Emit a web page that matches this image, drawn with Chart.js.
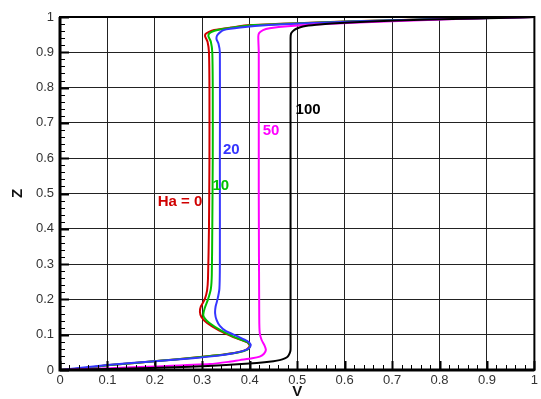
<!DOCTYPE html>
<html>
<head>
<meta charset="utf-8">
<script src="https://cdn.jsdelivr.net/npm/chart.js@4/dist/chart.umd.min.js"></script>
<style>
  html, body { margin: 0; padding: 0; background: #fff; }
  #wrap { width: 541px; height: 399px; position: relative; }
</style>
</head>
<body>
<div id="wrap"><canvas id="velocityChart"></canvas></div>
<script>
// profiles V(Z) for each Hartmann number
const ha0Z = [0, 0.005, 0.014, 0.026, 0.034, 0.040, 0.044, 0.050, 0.058, 0.068, 0.078, 0.094, 0.112, 0.133, 0.150, 0.165, 0.180, 0.200, 0.225, 0.260, 0.400, 0.600, 0.800, 0.900, 0.930, 0.945, 0.952, 0.958, 0.963, 0.970, 0.977, 0.984, 0.991, 0.996, 1];
const ha0V = [0, 0.050, 0.105, 0.210, 0.274, 0.316, 0.345, 0.375, 0.393, 0.400, 0.395, 0.364, 0.335, 0.310, 0.298, 0.295, 0.297, 0.305, 0.310, 0.312, 0.314, 0.315, 0.315, 0.314, 0.311, 0.306, 0.307, 0.314, 0.325, 0.360, 0.400, 0.526, 0.700, 0.850, 1];

const ha10Z = [0, 0.005, 0.014, 0.026, 0.034, 0.040, 0.044, 0.050, 0.058, 0.068, 0.078, 0.094, 0.112, 0.133, 0.145, 0.156, 0.175, 0.200, 0.230, 0.270, 0.400, 0.600, 0.800, 0.900, 0.930, 0.945, 0.952, 0.958, 0.963, 0.970, 0.977, 0.984, 0.991, 0.996, 1];
const ha10V = [0, 0.050, 0.105, 0.210, 0.276, 0.318, 0.347, 0.377, 0.395, 0.401, 0.396, 0.367, 0.339, 0.315, 0.306, 0.302, 0.305, 0.312, 0.318, 0.320, 0.321, 0.322, 0.322, 0.321, 0.318, 0.313, 0.314, 0.320, 0.332, 0.365, 0.410, 0.535, 0.705, 0.855, 1];

const ha20Z = [0, 0.014, 0.025, 0.033, 0.040, 0.046, 0.055, 0.064, 0.072, 0.082, 0.095, 0.110, 0.125, 0.142, 0.160, 0.180, 0.200, 0.230, 0.300, 0.600, 0.900, 0.925, 0.937, 0.947, 0.955, 0.963, 0.970, 0.977, 0.984, 0.991, 0.996, 1];
const ha20V = [0, 0.100, 0.200, 0.280, 0.330, 0.360, 0.388, 0.400, 0.402, 0.395, 0.375, 0.350, 0.337, 0.330, 0.327, 0.328, 0.332, 0.336, 0.337, 0.337, 0.337, 0.334, 0.330, 0.331, 0.336, 0.345, 0.380, 0.440, 0.550, 0.710, 0.860, 1];

const ha50Z = [0, 0.005, 0.010, 0.017, 0.023, 0.028, 0.033, 0.038, 0.046, 0.057, 0.070, 0.085, 0.105, 0.150, 0.500, 0.900, 0.945, 0.955, 0.963, 0.968, 0.974, 0.980, 0.988, 0.995, 1];
const ha50V = [0, 0.105, 0.200, 0.316, 0.355, 0.379, 0.405, 0.421, 0.430, 0.434, 0.431, 0.425, 0.421, 0.420, 0.419, 0.419, 0.418, 0.420, 0.428, 0.442, 0.480, 0.560, 0.700, 0.850, 1];

const ha100Z = [0, 0.003, 0.009, 0.014, 0.020, 0.025, 0.028, 0.033, 0.038, 0.047, 0.057, 0.100, 0.500, 0.940, 0.953, 0.960, 0.966, 0.973, 0.978, 0.984, 0.990, 0.995, 1];
const ha100V = [0, 0.105, 0.274, 0.350, 0.415, 0.450, 0.463, 0.474, 0.480, 0.484, 0.486, 0.486, 0.486, 0.486, 0.487, 0.491, 0.497, 0.512, 0.540, 0.600, 0.710, 0.850, 1];

const seriesNames = ["Ha = 0", "10", "20", "50", "100"];
const seriesColors = ["#d00000", "#00c000", "#3535ff", "#ff00ff", "#000000"];
const axisTicks = [0, 0.1, 0.2, 0.3, 0.4, 0.5, 0.6, 0.7, 0.8, 0.9, 1];

// where the series names sit, in data units (V, Z)
const nameSpots = [[0.253, 0.476], [0.339, 0.521], [0.361, 0.623], [0.445, 0.677], [0.523, 0.737]];

function toPoints(vs, zs) {
  return vs.map((v, i) => ({ x: v, y: zs[i] }));
}

const profiles = [
  toPoints(ha0V, ha0Z),
  toPoints(ha10V, ha10Z),
  toPoints(ha20V, ha20Z),
  toPoints(ha50V, ha50Z),
  toPoints(ha100V, ha100Z),
];

const frameAndTicks = {
  id: "frameAndTicks",
  afterDatasetsDraw(chart) {
    const { ctx, chartArea: a, scales } = chart;
    const xs = scales.x, ys = scales.y;
    ctx.save();
    ctx.strokeStyle = "#000";
    // inward ticks, majors every 0.1, minors every 0.02
    for (let k = 0; k <= 50; k++) {
      const v = k / 50;
      const major = k % 5 === 0;
      const len = major ? 9 : 5;
      ctx.lineWidth = major ? 2 : 1;
      const px = Math.round(xs.getPixelForValue(v)) + 0.5;
      ctx.beginPath();
      ctx.moveTo(px, a.bottom);
      ctx.lineTo(px, a.bottom - len);
      ctx.stroke();
      const py = Math.round(ys.getPixelForValue(v)) + 0.5;
      ctx.beginPath();
      ctx.moveTo(a.left, py);
      ctx.lineTo(a.left + len, py);
      ctx.stroke();
    }
    // frame
    ctx.lineWidth = 2;
    ctx.strokeRect(a.left, a.top, a.right - a.left, a.bottom - a.top);
    ctx.lineWidth = 3;
    ctx.beginPath();
    ctx.moveTo(a.left, a.top);
    ctx.lineTo(a.left, a.bottom);
    ctx.lineTo(a.right, a.bottom);
    ctx.stroke();
    // series names
    ctx.font = "bold 15px 'Liberation Sans', Arial, sans-serif";
    ctx.textAlign = "center";
    ctx.textBaseline = "middle";
    nameSpots.forEach((p, i) => {
      ctx.fillStyle = seriesColors[i];
      ctx.fillText(seriesNames[i], xs.getPixelForValue(p[0]), ys.getPixelForValue(p[1]));
    });
    ctx.restore();
  },
};

const tickFont = { family: "'Liberation Sans', Arial, sans-serif", size: 13 };
const titleFont = { family: "'Liberation Sans', Arial, sans-serif", size: 15, weight: "bold", lineHeight: 1 };

new Chart(document.getElementById("velocityChart"), {
  type: "scatter",
  data: {
    datasets: profiles.map((pts, i) => ({
      label: seriesNames[i],
      data: pts,
      showLine: true,
      borderColor: seriesColors[i],
      backgroundColor: seriesColors[i],
      borderWidth: 2,
      pointRadius: 0,
      tension: 0.2,
      order: 4 - i,
    })),
  },
  options: {
    responsive: true,
    maintainAspectRatio: false,
    animation: false,
    layout: { padding: { left: 0, top: 17, right: 6, bottom: 0 } },
    plugins: { legend: { display: false }, tooltip: { enabled: false } },
    scales: {
      x: {
        type: "linear",
        min: 0,
        max: 1,
        afterBuildTicks: (s) => { s.ticks = axisTicks.map((v) => ({ value: v })); },
        afterFit: (s) => { s.height = 29; },
        grid: { color: "#222", lineWidth: 1, drawTicks: false },
        border: { display: false },
        ticks: { font: tickFont, color: "#333", padding: 3, maxRotation: 0, callback: (v) => String(v) },
        title: { display: true, text: "V", font: titleFont, color: "#111", padding: { top: 0, bottom: 0 } },
      },
      y: {
        type: "linear",
        min: 0,
        max: 1,
        afterBuildTicks: (s) => { s.ticks = axisTicks.map((v) => ({ value: v })); },
        afterFit: (s) => { s.width = 60; },
        grid: { color: "#222", lineWidth: 1, drawTicks: false },
        border: { display: false },
        ticks: { font: tickFont, color: "#333", padding: 6, callback: (v) => String(v) },
        title: { display: true, text: "Z", font: titleFont, color: "#111", padding: { top: 10, bottom: 0 } },
      },
    },
  },
  plugins: [frameAndTicks],
});
</script>
</body>
</html>
